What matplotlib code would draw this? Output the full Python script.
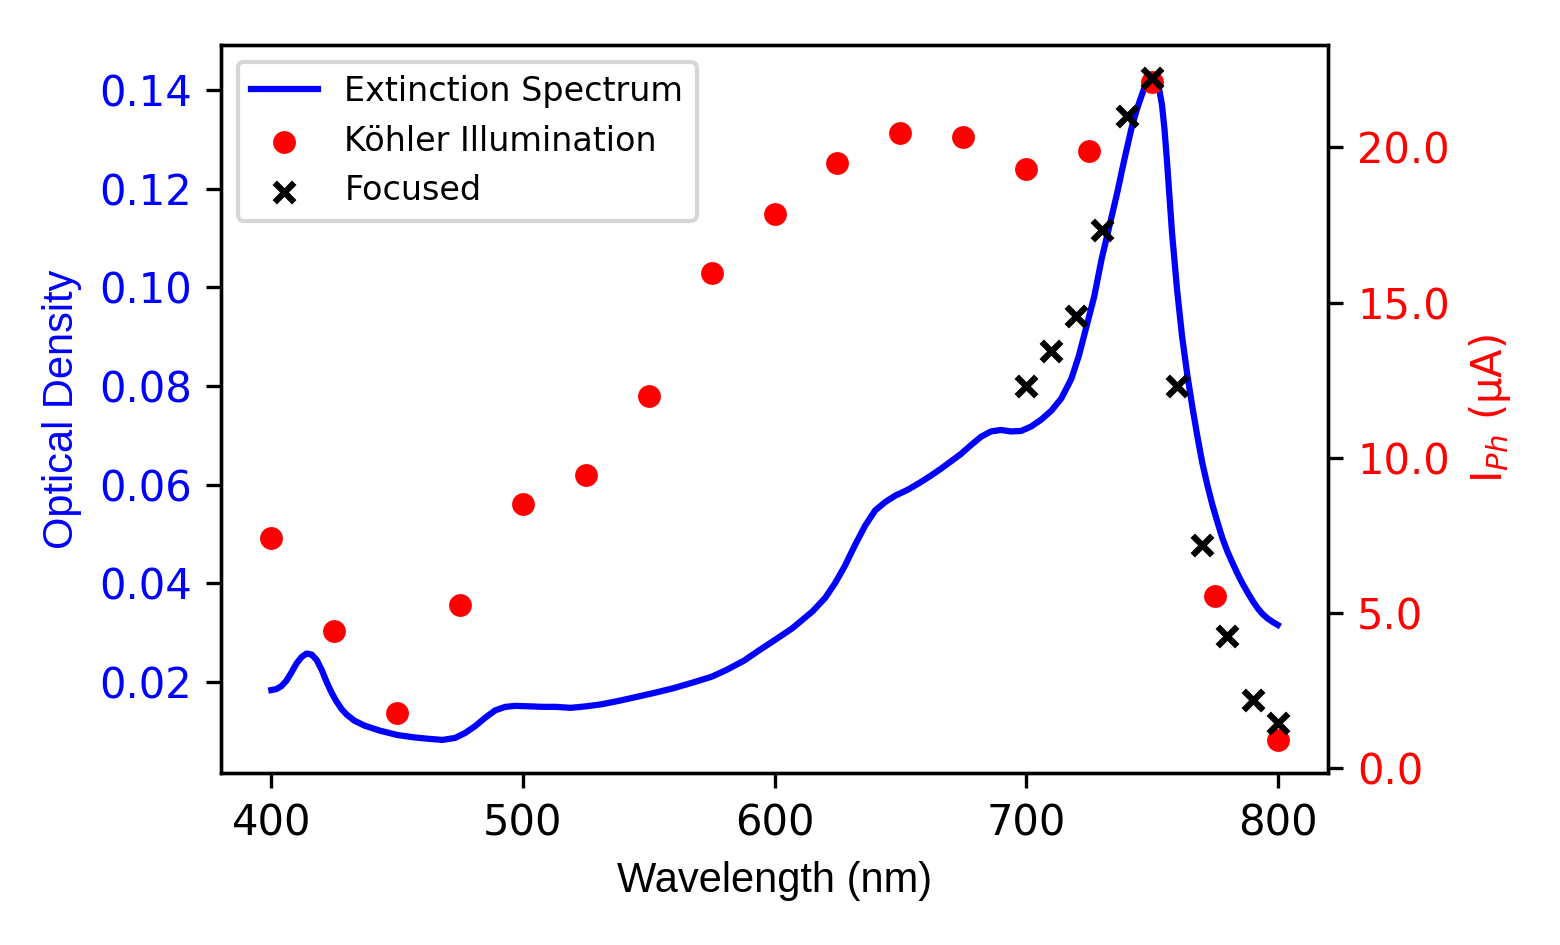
import numpy as np
import matplotlib
matplotlib.use('Agg')
from matplotlib import pyplot as plt
from matplotlib.ticker import FormatStrFormatter

# extinction spectrum
wl = [400, 402, 404, 406, 408, 410, 412, 414, 416, 418, 420, 422, 424, 426, 428,
      430, 433, 437, 443, 450, 457, 463, 468, 473, 477, 481, 485, 489, 493, 497,
      503, 508, 513, 519, 525, 531, 538, 545, 552, 560, 568, 575, 581, 588, 594,
      600, 607, 615, 620, 624, 628, 632, 636, 640, 644, 648, 653, 658, 662, 666,
      670, 674, 678, 682, 686, 690, 694, 698, 702, 706, 710, 714, 718, 721, 724,
      727, 730, 733, 736, 739, 742, 744, 746, 747, 748, 749, 750, 751, 752, 753,
      754, 755, 756, 758, 760, 762, 764, 766, 768, 770, 772, 774, 776, 778, 780,
      782, 784, 786, 788, 790, 792, 794, 796, 798, 800]
od = [0.0184, 0.0186, 0.0192, 0.0203, 0.0220, 0.0238, 0.0251, 0.0258, 0.0256,
      0.0245, 0.0225, 0.0200, 0.0178, 0.0160, 0.0145, 0.0134, 0.0122, 0.0112,
      0.0102, 0.0093, 0.0088, 0.0085, 0.0083, 0.0087, 0.0097, 0.0111, 0.0128,
      0.0143, 0.0150, 0.0152, 0.0151, 0.0150, 0.0150, 0.0148, 0.0151, 0.0155,
      0.0162, 0.0170, 0.0178, 0.0188, 0.0200, 0.0211, 0.0225, 0.0244, 0.0265,
      0.0285, 0.0309, 0.0343, 0.0370, 0.0400, 0.0436, 0.0478, 0.0517, 0.0548,
      0.0565, 0.0578, 0.0590, 0.0605, 0.0618, 0.0632, 0.0647, 0.0662, 0.0680,
      0.0697, 0.0708, 0.0711, 0.0708, 0.0709, 0.0718, 0.0732, 0.0750, 0.0775,
      0.0815, 0.0862, 0.0921, 0.0980, 0.1057, 0.1122, 0.1187, 0.1258, 0.1325,
      0.1360, 0.1390, 0.1404, 0.1414, 0.1421, 0.1424, 0.1422, 0.1414, 0.1398,
      0.1370, 0.1320, 0.1255, 0.1110, 0.0995, 0.0900, 0.0825, 0.0760, 0.0700,
      0.0645, 0.0600, 0.0560, 0.0525, 0.0492, 0.0465, 0.0442, 0.0420, 0.0400,
      0.0382, 0.0365, 0.0350, 0.0338, 0.0329, 0.0322, 0.0316]

# photocurrent, Koehler illumination
wl_k = [400, 425, 450, 475, 500, 525, 550, 575, 600, 625, 650, 675, 700, 725,
        750, 775, 800]
i_k = [7.41, 4.44, 1.80, 5.28, 8.53, 9.44, 11.98, 15.94, 17.84, 19.48, 20.45,
       20.32, 19.29, 19.87, 22.09, 5.54, 0.92]

# photocurrent, focused
wl_f = [700, 710, 720, 730, 740, 750, 760, 770, 780, 790, 800]
i_f = [12.30, 13.43, 14.56, 17.33, 21.0, 22.23, 12.33, 7.21, 4.28, 2.19, 1.48]

arial = 'Liberation Sans'

fig, ax = plt.subplots(figsize=(5.2, 3.15), dpi=300)
fig.subplots_adjust(left=0.1417, right=0.8513, top=0.9524, bottom=0.182)

l1, = ax.plot(wl, od, color='blue', lw=1.5, label='Extinction Spectrum')
ax.set_xlabel('Wavelength (nm)', fontsize=10, family=arial)
ax.set_ylabel('Optical Density', fontsize=10, family=arial, color='blue')
ax.tick_params(axis='y', labelcolor='blue', labelsize=10)
ax.tick_params(axis='x', labelsize=10)

ax2 = ax.twinx()
s1 = ax2.scatter(wl_k, i_k, color='red', s=30, linewidths=0,
                 label='Köhler Illumination')
s2 = ax2.scatter(wl_f, i_f, color='black', marker='x', s=22, linewidths=1.5,
                 label='Focused')
ax2.set_ylabel('I$_{Ph}$ (μA)', fontsize=10, color='red')
ax2.tick_params(axis='y', labelcolor='red', labelsize=10)
ax2.yaxis.set_major_formatter(FormatStrFormatter('%.1f'))

ax.legend(handles=[l1, s1, s2], loc='upper left', fontsize=8)

plt.savefig('out.png', dpi=300)
